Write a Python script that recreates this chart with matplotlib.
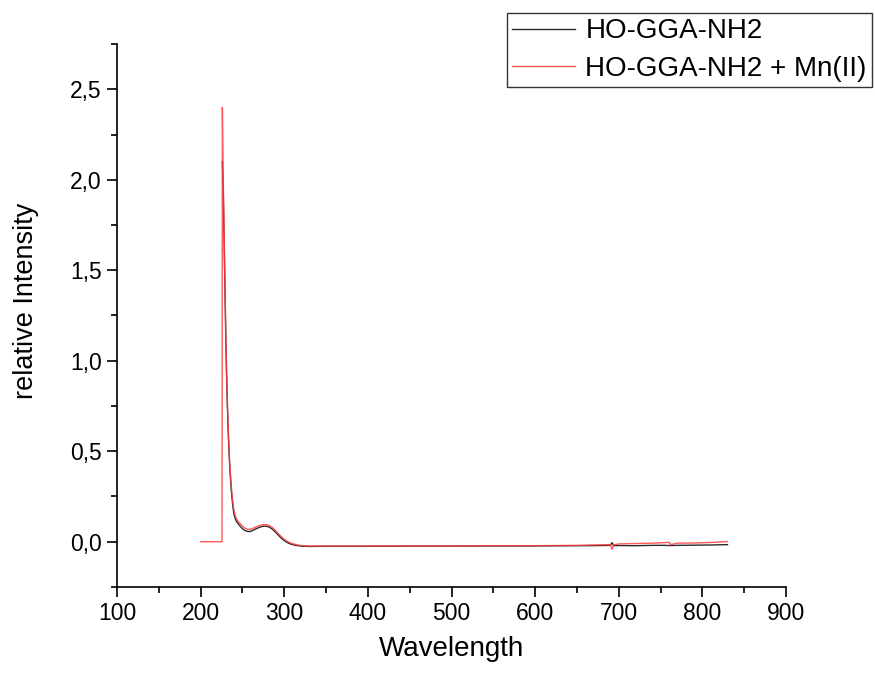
import matplotlib.pyplot as plt
from matplotlib.ticker import MultipleLocator, FuncFormatter

plt.rcParams['font.family'] = ['Liberation Sans', 'DejaVu Sans']

# spectrum (nm, relative intensity)
wl_peak = [226, 227, 228, 229, 230, 231, 232, 233, 234, 235, 236, 237, 238, 239, 240,
           242, 244, 246, 248, 250, 253, 256, 259, 262, 266, 270, 274, 278, 282, 286,
           290, 294, 298, 302, 306, 310, 315, 320, 330]
peptide_peak = [2.10, 1.95, 1.70, 1.42, 1.16, 0.93, 0.75, 0.61, 0.49, 0.40, 0.33, 0.27, 0.22,
                0.18, 0.15, 0.12, 0.105, 0.093, 0.082, 0.072, 0.062, 0.057, 0.056, 0.062,
                0.071, 0.079, 0.085, 0.086, 0.081, 0.069, 0.051, 0.031, 0.013, 0.0,
                -0.010, -0.016, -0.021, -0.024, -0.026]
mn_peak = [2.40, 2.02, 1.75, 1.45, 1.18, 0.95, 0.77, 0.63, 0.51, 0.42, 0.35, 0.29, 0.24,
           0.20, 0.17, 0.135, 0.118, 0.106, 0.096, 0.086, 0.075, 0.069, 0.068, 0.073,
           0.081, 0.089, 0.094, 0.095, 0.090, 0.078, 0.060, 0.040, 0.021, 0.007,
           -0.004, -0.011, -0.017, -0.021, -0.024]

wl_tail = [350, 400, 450, 500, 550, 600, 650, 680, 690, 692, 694, 700, 720, 740, 755,
           760, 762, 770, 790, 810, 830]
peptide_tail = [-0.025, -0.025, -0.024, -0.024, -0.023, -0.023, -0.022, -0.021, -0.020,
                -0.005, -0.022, -0.021, -0.022, -0.020, -0.020, -0.021, -0.021, -0.020,
                -0.019, -0.018, -0.016]
mn_tail = [-0.024, -0.024, -0.023, -0.023, -0.022, -0.022, -0.020, -0.017, -0.016,
           -0.042, -0.017, -0.012, -0.010, -0.008, -0.005, -0.003, -0.016, -0.008,
           -0.007, -0.004, 0.001]

# Mn(II) trace has a zero baseline from 200 nm before the step at 226 nm
wl_pre = [200, 225.6]
mn_pre = [0.0, 0.0]

wl_black = wl_peak + wl_tail
y_black = peptide_peak + peptide_tail
wl_red = wl_pre + wl_peak + wl_tail
y_red = mn_pre + mn_peak + mn_tail

fig = plt.figure(figsize=(8.75, 6.75), dpi=100)
ax = fig.add_axes([0.1337, 0.1304, 0.7646, 0.8044])

ax.plot(wl_black, y_black, color='#2b2b2b', lw=1.0, label='HO-GGA-NH2')
ax.plot(wl_red, y_red, color='#ff3b3b', lw=1.0, alpha=0.85, label='HO-GGA-NH2 + Mn(II)')

ax.set_xlim(100, 900)
ax.set_ylim(-0.25, 2.75)
ax.xaxis.set_major_locator(MultipleLocator(100))
ax.xaxis.set_minor_locator(MultipleLocator(50))
ax.yaxis.set_major_locator(MultipleLocator(0.5))
ax.yaxis.set_minor_locator(MultipleLocator(0.25))
ax.yaxis.set_major_formatter(FuncFormatter(lambda v, p: f"{v:.1f}".replace('.', ',')))

for side in ['top', 'right']:
    ax.spines[side].set_visible(False)
for side in ['left', 'bottom']:
    ax.spines[side].set_linewidth(1.2)
ax.tick_params(which='major', direction='out', length=7, width=1.2, labelsize=16.5, pad=4)
ax.tick_params(which='minor', direction='out', length=4.5, width=1.2)

ax.set_xlabel('Wavelength', fontsize=20, labelpad=8)
ax.set_ylabel('relative Intensity', fontsize=19.5)
ax.yaxis.set_label_coords(-0.116, 0.527)

leg = fig.legend(loc='upper right', bbox_to_anchor=(0.997, 0.981), fontsize=20,
                 frameon=True, fancybox=False, edgecolor='black', handlelength=2.25,
                 borderpad=0.2, labelspacing=0.41, handletextpad=0.38, borderaxespad=0.0)
leg.get_frame().set_linewidth(1.0)

fig.savefig('out.png', dpi=100)
